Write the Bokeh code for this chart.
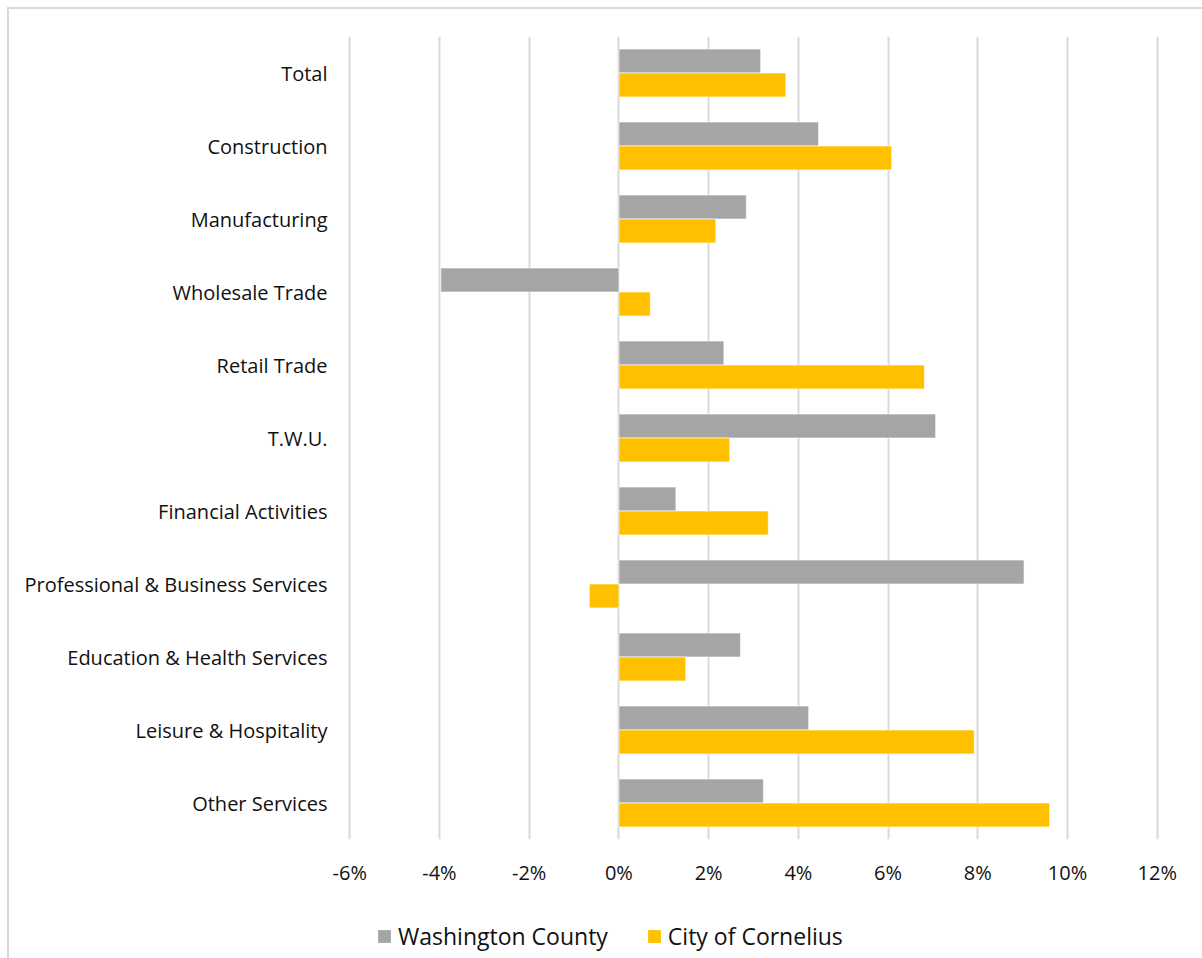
from bokeh.plotting import figure
from bokeh.layouts import column
from bokeh.models import FactorRange, Range1d, FixedTicker, PrintfTickFormatter, Legend, LegendItem
from bokeh.transform import dodge
from bokeh.embed import file_html
from bokeh.resources import INLINE

categories = ["Total", "Construction", "Manufacturing", "Wholesale Trade", "Retail Trade",
              "T.W.U.", "Financial Activities", "Professional & Business Services",
              "Education & Health Services", "Leisure & Hospitality", "Other Services"]
washington_county = [3.16, 4.45, 2.84, -3.97, 2.34, 7.06, 1.27, 9.03, 2.71, 4.23, 3.22]
city_of_cornelius = [3.72, 6.08, 2.16, 0.70, 6.81, 2.47, 3.33, -0.66, 1.49, 7.92, 9.60]
x_ticks = [-6, -4, -2, 0, 2, 4, 6, 8, 10, 12]
series_names = ["Washington County", "City of Cornelius"]

GRAY = "#A5A5A5"
GOLD = "#FFC000"
FONT = "Open Sans"

p = figure(width=1193, height=900, output_backend="svg", toolbar_location=None,
           y_range=FactorRange(*list(reversed(categories))),
           x_range=Range1d(x_ticks[0] - 0.05, x_ticks[-1] + 0.05),
           min_border_left=338, min_border_right=43, min_border_top=27, min_border_bottom=70)
p.outline_line_color = None
p.background_fill_color = "white"
p.border_fill_color = "white"

src = dict(cat=categories, wc=washington_county, cc=city_of_cornelius)
p.hbar(y=dodge("cat", 0.164, range=p.y_range), right="wc", left=0, height=0.328,
       source=src, fill_color=GRAY, line_color="white", line_alpha=0.6, line_width=1)
p.hbar(y=dodge("cat", -0.164, range=p.y_range), right="cc", left=0, height=0.328,
       source=src, fill_color=GOLD, line_color="white", line_alpha=0.6, line_width=1)

p.xaxis.ticker = FixedTicker(ticks=x_ticks)
p.xaxis.formatter = PrintfTickFormatter(format="%d%%")
for ax in (p.xaxis, p.yaxis):
    ax.axis_line_color = None
    ax.major_tick_line_color = None
    ax.minor_tick_line_color = None
    ax.major_tick_out = 0
    ax.major_tick_in = 0
    ax.major_label_text_font = FONT
    ax.major_label_text_font_size = "20px"
    ax.major_label_text_color = "#111111"
p.xaxis.major_label_standoff = 19
p.yaxis.major_label_standoff = 20

p.xgrid.ticker = FixedTicker(ticks=x_ticks)
p.xgrid.grid_line_color = "#D9D9D9"
p.xgrid.grid_line_width = 2
p.ygrid.grid_line_color = None

# legend strip below the chart (its frame is aligned with the chart's frame)
p2 = figure(width=1193, height=49, output_backend="svg", toolbar_location=None,
            x_range=Range1d(0, 1), y_range=Range1d(0, 1), min_border=0)
p2.axis.visible = False
p2.grid.grid_line_color = None
p2.outline_line_color = None
p2.border_fill_color = "white"
# legend-only swatches: single points placed outside the visible range
l1 = p2.hbar(y=[-5], right=[0.1], left=0, height=0.3, fill_color=GRAY, line_color=None)
l2 = p2.hbar(y=[-5], right=[0.1], left=0, height=0.3, fill_color=GOLD, line_color=None)
legend = Legend(items=[LegendItem(label=series_names[0], renderers=[l1]),
                       LegendItem(label=series_names[1], renderers=[l2])],
                location=(29, 6), orientation="horizontal",
                label_text_font=FONT, label_text_font_size="23px", label_text_color="#111111",
                glyph_width=16, glyph_height=16, label_standoff=6, spacing=38,
                padding=0, margin=0, border_line_color=None, background_fill_alpha=0)
p2.add_layout(legend, "center")

lay = column(p, p2, spacing=0)
lay.margin = (7, 0, 0, 7)
lay.styles = {"border-top": "2px solid #D9D9D9", "border-left": "2px solid #D9D9D9"}

open("out.html", "w").write(file_html(lay, INLINE))
